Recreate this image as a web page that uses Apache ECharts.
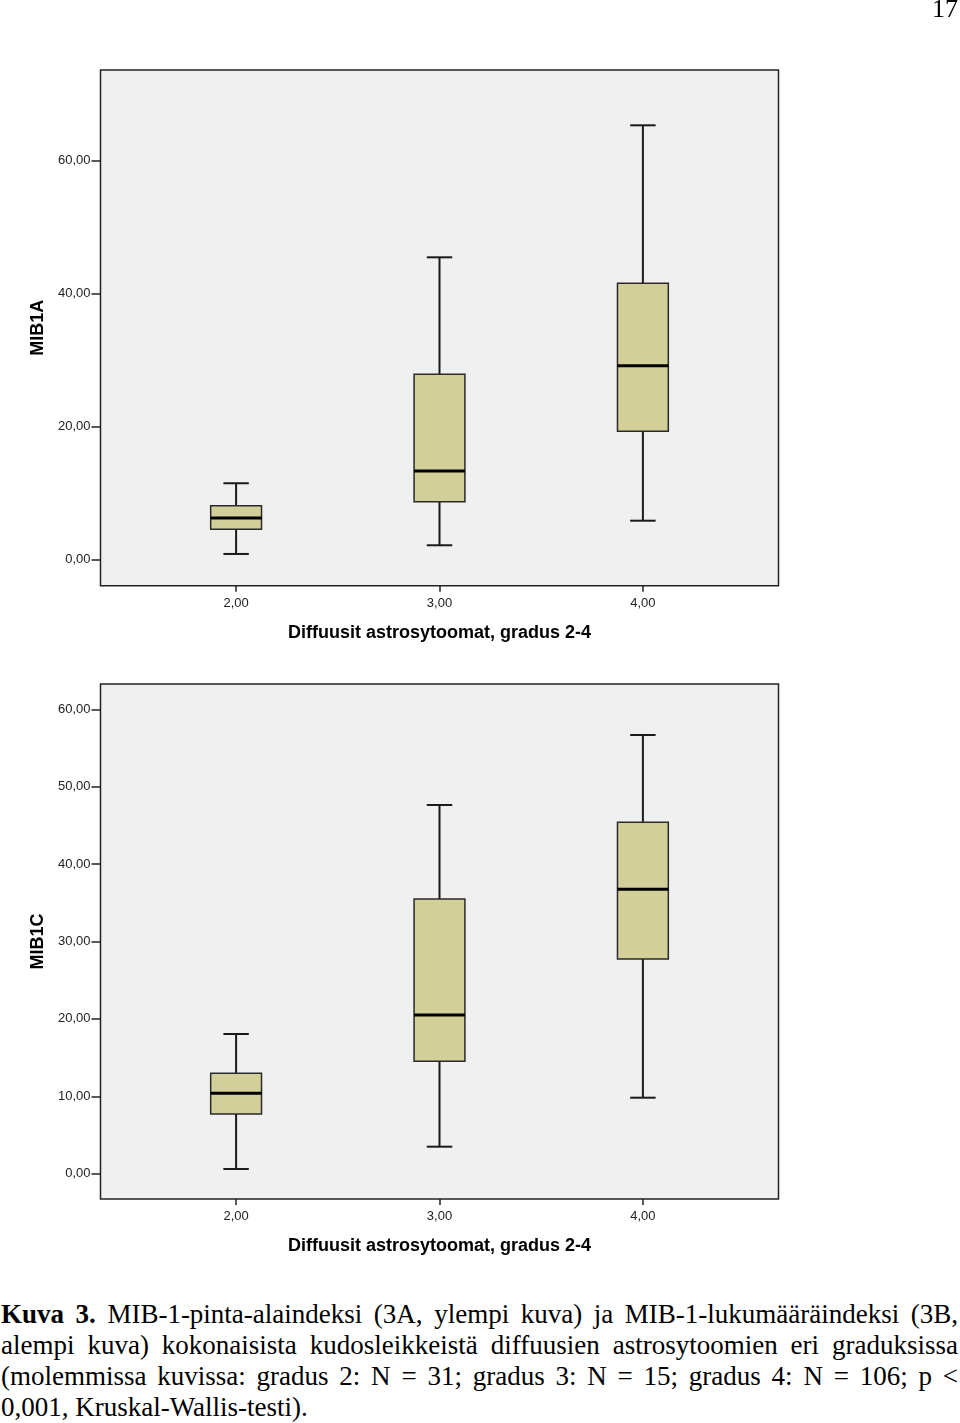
<!DOCTYPE html>
<html>
<head>
<meta charset="utf-8">
<script src="https://cdn.jsdelivr.net/npm/echarts@6.0.0/dist/echarts.min.js"></script>
<style>
  html, body { margin: 0; padding: 0; background: #fff; }
  #page { position: relative; width: 960px; height: 1423px; overflow: hidden; }
  #chart { position: absolute; left: 0; top: 0; width: 960px; height: 1290px; }
  #pagenum { position: absolute; right: 2px; top: -6px; font-family: "Liberation Serif", "DejaVu Serif", serif; font-size: 26px; color: #000; }
  #caption { position: absolute; left: 1px; top: 1299px; width: 957px; font-family: "Liberation Serif", "DejaVu Serif", serif; font-size: 27px; line-height: 31px; text-align: justify; color: #000; }
</style>
</head>
<body>
<div id="page">
  <div id="chart"></div>
  <div id="pagenum">17</div>
  <div id="caption"><b>Kuva 3.</b> MIB-1-pinta-alaindeksi (3A, ylempi kuva) ja MIB-1-lukumääräindeksi (3B, alempi kuva) kokonaisista kudosleikkeistä diffuusien astrosytoomien eri graduksissa (molemmissa kuvissa: gradus 2: N = 31; gradus 3: N = 15; gradus 4: N = 106; p &lt; 0,001, Kruskal-Wallis-testi).</div>
</div>
<script>
// ---- data ----
const grades = [2, 3, 4];
const xTicks = [2, 3, 4];
const xTitle = 'Diffuusit astrosytoomat, gradus 2-4';
// [min, Q1, median, Q3, max] per grade
const mib1aBoxes = [
  [0.80, 4.52, 6.22, 8.07, 11.45],
  [2.11, 8.67, 13.30, 27.86, 45.48],
  [5.81, 19.28, 29.16, 41.57, 65.36]
];
const mib1cBoxes = [
  [0.61, 7.71, 10.39, 12.97, 18.05],
  [3.49, 14.52, 20.50, 35.49, 47.64],
  [9.82, 27.74, 36.74, 45.40, 56.68]
];
const mib1aTicks = [0, 20, 40, 60];
const mib1cTicks = [0, 10, 20, 30, 40, 50, 60];

// ---- helpers ----
const fmt = v => Number(v).toFixed(2).replace('.', ',');
const toRows = boxes => grades.map((g, i) => [g].concat(boxes[i]));

function renderBox(params, api) {
  const x = api.value(0);
  const pMin = api.coord([x, api.value(1)]);
  const pQ1 = api.coord([x, api.value(2)]);
  const pMed = api.coord([x, api.value(3)]);
  const pQ3 = api.coord([x, api.value(4)]);
  const pMax = api.coord([x, api.value(5)]);
  const bw = api.size([0.25, 0])[0];
  const cw = bw / 2;
  const cx = pMed[0];
  const line = '#1a1a1a';
  return {
    type: 'group',
    children: [
      { type: 'line', shape: { x1: cx, y1: pMax[1], x2: cx, y2: pQ3[1] }, style: { stroke: line, lineWidth: 2 } },
      { type: 'line', shape: { x1: cx, y1: pQ1[1], x2: cx, y2: pMin[1] }, style: { stroke: line, lineWidth: 2 } },
      { type: 'line', shape: { x1: cx - cw / 2, y1: pMax[1], x2: cx + cw / 2, y2: pMax[1] }, style: { stroke: line, lineWidth: 2 } },
      { type: 'line', shape: { x1: cx - cw / 2, y1: pMin[1], x2: cx + cw / 2, y2: pMin[1] }, style: { stroke: line, lineWidth: 2 } },
      { type: 'rect', shape: { x: cx - bw / 2, y: pQ3[1], width: bw, height: pQ1[1] - pQ3[1] }, style: { fill: '#d3cf98', stroke: '#2a2a2a', lineWidth: 1.5 } },
      { type: 'line', shape: { x1: cx - bw / 2, y1: pMed[1], x2: cx + bw / 2, y2: pMed[1] }, style: { stroke: '#000', lineWidth: 3 } }
    ]
  };
}

const tickLabelStyle = { color: '#222', fontSize: 13, fontFamily: 'Liberation Sans, Arial, sans-serif' };
const nameStyle = { color: '#000', fontSize: 18, fontWeight: 'bold', fontFamily: 'Liberation Sans, Arial, sans-serif' };

function xAxisFor(gridIndex) {
  return {
    type: 'value', gridIndex, min: 4 / 3, max: 14 / 3, position: 'bottom',
    splitLine: { show: false },
    axisLine: { show: false, onZero: false },
    axisTick: { show: true, length: 6, customValues: xTicks, lineStyle: { color: '#222', width: 1.5 } },
    axisLabel: { customValues: xTicks, formatter: fmt, margin: 11, ...tickLabelStyle },
    name: xTitle, nameLocation: 'middle', nameGap: 38, nameTextStyle: nameStyle
  };
}
function yAxisFor(gridIndex, min, max, ticks, name) {
  return {
    type: 'value', gridIndex, min, max, position: 'left',
    splitLine: { show: false },
    axisLine: { show: false, onZero: false },
    axisTick: { show: true, length: 9, customValues: ticks, lineStyle: { color: '#222', width: 1.5 } },
    axisLabel: { customValues: ticks, formatter: fmt, margin: 10, ...tickLabelStyle },
    name, nameLocation: 'middle', nameGap: 47, nameRotate: 90, nameTextStyle: nameStyle
  };
}

const gridStyle = { show: true, backgroundColor: '#f0f0f0', borderColor: '#222', borderWidth: 1.5 };

const chart = echarts.init(document.getElementById('chart'), null, { renderer: 'canvas' });
chart.setOption({
  animation: false,
  backgroundColor: '#fff',
  grid: [
    { left: 100.5, top: 70, width: 678, height: 515.7, ...gridStyle },
    { left: 100.5, top: 684, width: 678, height: 515, ...gridStyle }
  ],
  xAxis: [xAxisFor(0), xAxisFor(1)],
  yAxis: [
    yAxisFor(0, -3.98, 73.69, mib1aTicks, 'MIB1A'),
    yAxisFor(1, -3.27, 63.27, mib1cTicks, 'MIB1C')
  ],
  series: [
    { type: 'custom', xAxisIndex: 0, yAxisIndex: 0, renderItem: renderBox, data: toRows(mib1aBoxes), encode: { x: 0, y: [1, 2, 3, 4, 5] }, clip: false },
    { type: 'custom', xAxisIndex: 1, yAxisIndex: 1, renderItem: renderBox, data: toRows(mib1cBoxes), encode: { x: 0, y: [1, 2, 3, 4, 5] }, clip: false }
  ]
});
</script>
</body>
</html>
